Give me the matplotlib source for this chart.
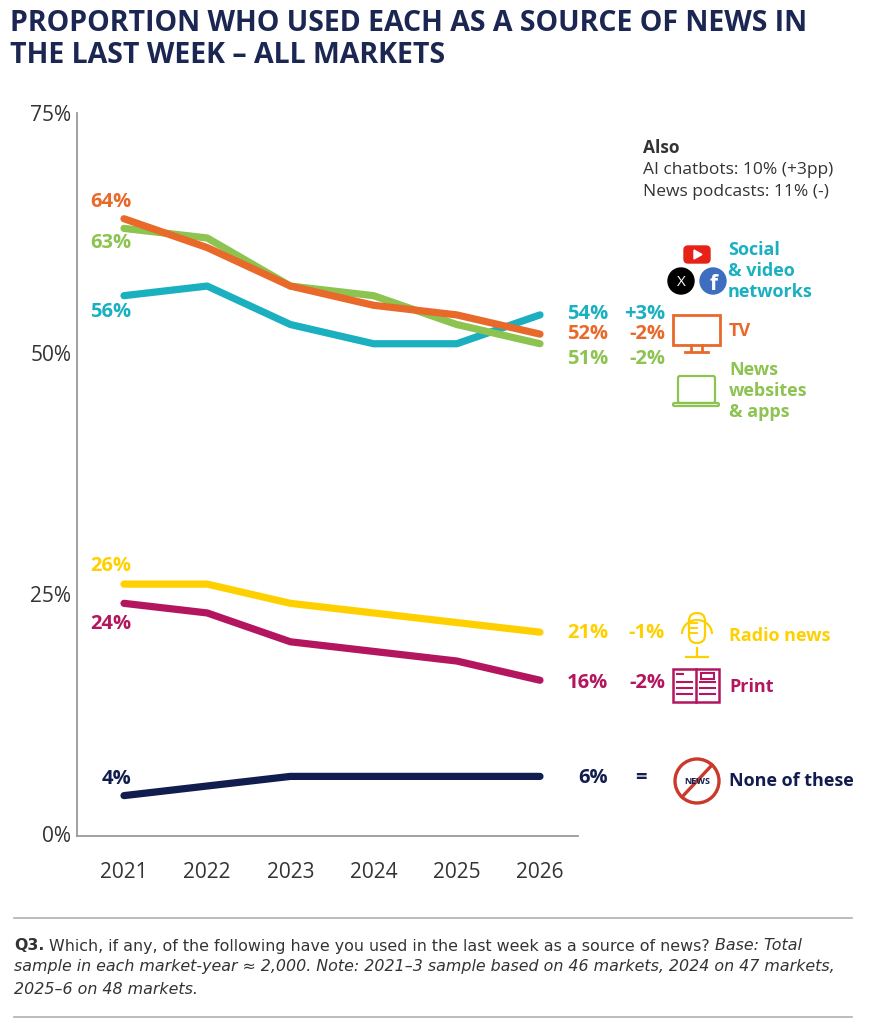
import matplotlib
matplotlib.use("Agg")
import matplotlib.pyplot as plt
from matplotlib.patches import Circle, Rectangle, FancyBboxPatch, Polygon, Arc
from matplotlib.lines import Line2D

# data
years = [2021, 2022, 2023, 2024, 2025, 2026]
tv = [64, 61, 57, 55, 54, 52]
online = [63, 62, 57, 56, 53, 51]
social = [56, 57, 53, 51, 51, 54]
radio = [26, 26, 24, 23, 22, 21]
print_ = [24, 23, 20, 19, 18, 16]
none = [4, 5, 6, 6, 6, 6]
changes = ["+3%", "-2%", "-2%", "-1%", "-2%", "="]  # social, tv, online, radio, print, none

C_TV = "#e8692a"
C_ON = "#8dc350"
C_SO = "#1ab0bf"
C_RA = "#ffd000"
C_PR = "#b3165f"
C_NO = "#111d4e"
C_TXT = "#333333"

plt.rcParams["font.family"] = ["Open Sans", "DejaVu Sans"]

fig = plt.figure(figsize=(8.88, 10.28), dpi=100)
ax = fig.add_axes([77 / 888, 1 - 836 / 1028, (578 - 77) / 888, (836 - 113) / 1028])

series = [(social, C_SO), (online, C_ON), (tv, C_TV), (radio, C_RA), (print_, C_PR), (none, C_NO)]
for vals, col in series:
    ax.plot(years, vals, color=col, lw=5.2, solid_capstyle="round", solid_joinstyle="round")

ax.set_xlim(2020.435, 2026.457)
ax.set_ylim(-0.2, 75)
ax.set_yticks([0, 25, 50, 75])
ax.set_yticklabels(["0%", "25%", "50%", "75%"])
ax.set_xticks(years)
ax.tick_params(length=0, labelsize=15, colors=C_TXT)
ax.tick_params(axis="x", pad=19)
ax.tick_params(axis="y", pad=4)
for s in ["top", "right"]:
    ax.spines[s].set_visible(False)
for s in ["left", "bottom"]:
    ax.spines[s].set_color("#9a9a9a")
    ax.spines[s].set_linewidth(1.3)

num = dict(fontsize=14.5, fontweight="bold", va="center", textcoords="offset pixels")

# start labels (pixel offset from first point; positive dy = below)
start_off = [(social, C_SO, 16), (online, C_ON, 15), (tv, C_TV, -17),
             (radio, C_RA, -18), (print_, C_PR, 21), (none, C_NO, -17)]
for vals, col, dy in start_off:
    ax.annotate(f"{vals[0]}%", xy=(years[0], vals[0]), xytext=(7, -dy),
                ha="right", color=col, **num)

# end labels
end_off = [(social, C_SO, -1), (tv, C_TV, 0), (online, C_ON, 15),
           (radio, C_RA, 1), (print_, C_PR, 3), (none, C_NO, 2)]
for (vals, col, dy), c in zip(end_off, changes):
    ax.annotate(f"{vals[-1]}%", xy=(years[-1], vals[-1]), xytext=(68, -dy),
                ha="right", color=col, **num)
    if c == "=":
        ax.annotate(c, xy=(years[-1], vals[-1]), xytext=(101, -dy),
                    ha="center", color=col, **num)
    else:
        ax.annotate(c, xy=(years[-1], vals[-1]), xytext=(125, -dy),
                    ha="right", color=col, **num)

# overlay in pixel coordinates
ov = fig.add_axes([0, 0, 1, 1], zorder=5)
ov.set_xlim(0, 888)
ov.set_ylim(1028, 0)
ov.axis("off")

ov.text(10, 9, "PROPORTION WHO USED EACH AS A SOURCE OF NEWS IN\nTHE LAST WEEK \u2013 ALL MARKETS",
        ha="left", va="top", fontsize=20.5, fontweight="bold", color="#1b2752", linespacing=1.13)

ov.text(643, 148, "Also", ha="left", va="center", fontsize=12.5, fontweight="bold", color=C_TXT)
ov.text(643, 170, "AI chatbots: 10% (+3pp)", ha="left", va="center", fontsize=12.5, color=C_TXT)
ov.text(643, 192, "News podcasts: 11% (-)", ha="left", va="center", fontsize=12.5, color=C_TXT)

lab = dict(ha="left", va="center", fontsize=13, fontweight="bold", linespacing=1.2)
ov.text(728, 271, "Social\n& video\nnetworks", color=C_SO, **lab)
ov.text(729, 331, "TV", color=C_TV, **lab)
ov.text(729, 391, "News\nwebsites\n& apps", color=C_ON, **lab)
ov.text(729, 636, "Radio news", color=C_RA, **lab)
ov.text(729, 687, "Print", color=C_PR, **lab)
ov.text(729, 781, "None of these", color=C_NO, **lab)

# icons
ov.add_patch(FancyBboxPatch((684, 246), 26, 17, boxstyle="round,pad=0,rounding_size=4", color="#e62117"))
ov.add_patch(Polygon([(694, 250), (694, 259), (702, 254.5)], color="white"))
ov.add_patch(Circle((681, 281), 13, color="black"))
ov.text(681, 282, "X", color="white", ha="center", va="center", fontsize=11)
ov.add_patch(Circle((713, 281), 13, color="#3d6ebf"))
ov.text(714, 285, "f", color="white", ha="center", va="center", fontsize=15, fontweight="bold")

ov.add_patch(Rectangle((673, 315), 47, 30, fill=False, ec=C_TV, lw=2))
ov.add_line(Line2D([691, 691], [345, 351], color=C_TV, lw=2))
ov.add_line(Line2D([702, 702], [345, 351], color=C_TV, lw=2))
ov.add_line(Line2D([685, 708], [352, 352], color=C_TV, lw=2))

ov.add_patch(FancyBboxPatch((678, 376), 37, 27, boxstyle="round,pad=0,rounding_size=2", fill=False, ec=C_ON, lw=1.6))
ov.add_patch(FancyBboxPatch((673, 403), 46, 3, boxstyle="round,pad=0,rounding_size=1.5", fill=False, ec=C_ON, lw=1.6))

ov.add_patch(FancyBboxPatch((689, 613), 16, 30, boxstyle="round,pad=0,rounding_size=8", fill=False, ec=C_RA, lw=1.6))
for yy in [623, 628, 633]:
    ov.add_line(Line2D([689, 697], [yy, yy], color=C_RA, lw=1.4))
ov.add_patch(Arc((697, 634), 30, 28, theta1=180, theta2=360, ec=C_RA, lw=1.6))
ov.add_line(Line2D([697, 697], [648, 657], color=C_RA, lw=1.6))
ov.add_line(Line2D([686, 708], [657, 657], color=C_RA, lw=1.6))

ov.add_patch(Rectangle((673, 669), 46, 33, fill=False, ec=C_PR, lw=1.8))
ov.add_line(Line2D([696, 696], [669, 702], color=C_PR, lw=1.8))
ov.add_line(Line2D([677, 683], [674, 674], color=C_PR, lw=1.5))
for yy in [682, 688, 694]:
    ov.add_line(Line2D([677, 692], [yy, yy], color=C_PR, lw=1.5))
    ov.add_line(Line2D([700, 715], [yy, yy], color=C_PR, lw=1.5))
ov.add_patch(Rectangle((701, 673), 13, 6, fill=False, ec=C_PR, lw=1.5))

ov.add_patch(Circle((697, 781), 22, fill=False, ec="#c93a2b", lw=2.4))
ov.text(697, 781, "NEWS", ha="center", va="center", fontsize=6.5, fontweight="bold", color=C_NO)
ov.add_line(Line2D([682, 712], [797, 765], color="#c93a2b", lw=2.4))

# footer
ov.add_line(Line2D([14, 852], [918, 918], color="#b0b0b0", lw=1.2))
ov.add_line(Line2D([14, 852], [1017, 1017], color="#b0b0b0", lw=1.2))

ffam = ["Liberation Sans Narrow", "DejaVu Sans"]
renderer = fig.canvas.get_renderer()


def run(x, y, pieces):
    for txt, style, weight in pieces:
        t = ov.text(x, y, txt, ha="left", va="center", fontsize=11.4, color=C_TXT,
                    family=ffam, style=style, fontweight=weight)
        x += t.get_window_extent(renderer).width


run(14, 946, [("Q3.", "normal", "bold"),
              (" Which, if any, of the following have you used in the last week as a source of news? ", "normal", "normal"),
              ("Base: Total", "italic", "normal")])
run(14, 967, [("sample in each market-year \u2248 2,000. Note: 2021\u20133 sample based on 46 markets, 2024 on 47 markets,", "italic", "normal")])
run(14, 989, [("2025\u20136 on 48 markets.", "italic", "normal")])

fig.savefig("out.png", dpi=100)
